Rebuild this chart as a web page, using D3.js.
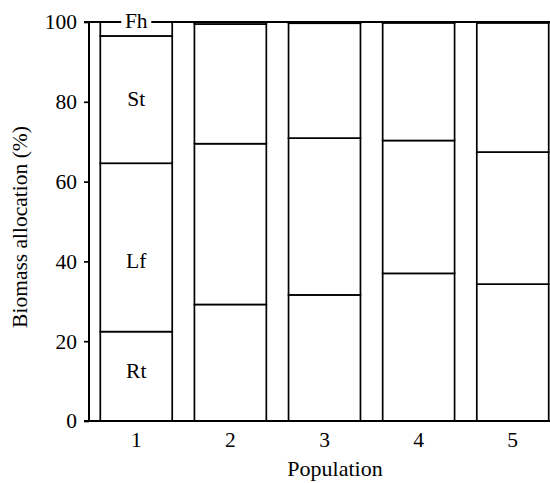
<!DOCTYPE html>
<html>
<head>
  <meta charset="utf-8">
  <title>Biomass allocation by population</title>
  <script src="https://d3js.org/d3.v7.min.js"></script>
  <style>
    body {
      margin: 0;
      background: #fff;
    }
    svg text {
      font-family: "Liberation Serif", "Times New Roman", serif;
      fill: #000;
    }
  </style>
</head>
<body>
  <div id="chart"></div>
  <script>
    // Population numbers and biomass parts (percent of total)
    var populations = ["1", "2", "3", "4", "5"];
    var parts = ["Rt", "Lf", "St", "Fh"];
    var rt = [22.4, 29.2, 31.6, 37.0, 34.3];
    var lf = [42.2, 40.3, 39.3, 33.3, 33.1];
    var st = [31.9, 30.0, 28.8, 29.5, 32.4];
    var fh = [3.5, 0.5, 0.3, 0.2, 0.2];
    var yTicks = [0, 20, 40, 60, 80, 100];
    // where the part labels sit in bar 1, in percent
    var labelLevels = [12.5, 40, 80.5, 100];

    var rows = populations.map(function(p, i) {
      return {pop: p, Rt: rt[i], Lf: lf[i], St: st[i], Fh: fh[i]};
    });

    var svg = d3.select("#chart")
      .append("svg")
      .attr("width", 550)
      .attr("height", 483);

    var margin = {top: 22, right: -10, bottom: 62, left: 89};
    var width = 550 - margin.left - margin.right;
    var height = 483 - margin.top - margin.bottom;

    var x = d3.scaleBand()
      .domain(populations)
      .range([0, width])
      .paddingInner(0.236)
      .paddingOuter(0.12);

    var y = d3.scaleLinear()
      .domain([0, 100])
      .range([height, 0]);

    var g = svg.append("g")
      .attr("transform", "translate(" + margin.left + "," + margin.top + ")");

    var stacked = d3.stack().keys(parts)(rows);

    // stacked bars
    stacked.forEach(function(layer) {
      g.selectAll(".seg-" + layer.key)
        .data(layer)
        .enter()
        .append("rect")
        .attr("class", "seg-" + layer.key)
        .attr("x", function(d) { return x(d.data.pop); })
        .attr("y", function(d) { return y(d[1]); })
        .attr("width", x.bandwidth())
        .attr("height", function(d) { return y(d[0]) - y(d[1]); })
        .attr("fill", "#fff")
        .attr("stroke", "#000")
        .attr("stroke-width", 1.7);
    });

    // line along the 100% level
    g.append("line")
      .attr("x1", -5)
      .attr("x2", width)
      .attr("y1", y(100))
      .attr("y2", y(100))
      .attr("stroke", "#000")
      .attr("stroke-width", 2);

    // y axis
    var yAxis = g.append("g")
      .call(d3.axisLeft(y).tickValues(yTicks).tickSize(5).tickPadding(7));
    yAxis.select(".domain").attr("stroke-width", 2).attr("d", "M0," + y(0) + "V" + y(100));
    yAxis.selectAll(".tick line").attr("stroke-width", 1.7);
    yAxis.attr("font-family", null).attr("font-size", null);
    yAxis.selectAll("text").style("font-size", "21.5px");

    // x axis
    var xAxis = g.append("g")
      .attr("transform", "translate(0," + height + ")")
      .call(d3.axisBottom(x).tickSize(0).tickPadding(11));
    xAxis.select(".domain").attr("stroke-width", 2).attr("d", "M-5,0H" + width);
    xAxis.attr("font-family", null).attr("font-size", null);
    xAxis.selectAll("text").style("font-size", "21.5px");

    // part labels inside the first bar
    var cx = x(populations[0]) + x.bandwidth() / 2;
    parts.forEach(function(p, i) {
      var ly = y(labelLevels[i]);
      if (p === "Fh") {
        g.append("rect")
          .attr("x", cx - 15)
          .attr("y", ly - 4)
          .attr("width", 30)
          .attr("height", 8)
          .attr("fill", "#fff");
      }
      g.append("text")
        .attr("x", cx)
        .attr("y", ly)
        .attr("dy", "0.3em")
        .attr("text-anchor", "middle")
        .style("font-size", "21.5px")
        .text(p);
    });

    // axis titles
    svg.append("text")
      .attr("x", 335)
      .attr("y", 476)
      .attr("text-anchor", "middle")
      .style("font-size", "22px")
      .text("Population");

    svg.append("text")
      .attr("transform", "translate(27,227) rotate(-90)")
      .attr("text-anchor", "middle")
      .style("font-size", "21.5px")
      .text("Biomass allocation (%)");
  </script>
</body>
</html>
